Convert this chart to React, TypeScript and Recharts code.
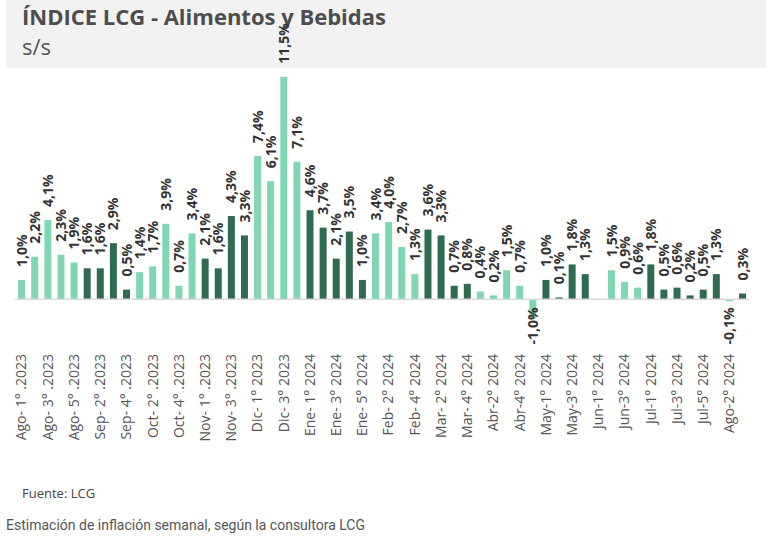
import React from 'react'
import { BarChart, Bar, XAxis, YAxis, ReferenceLine, LabelList, Cell } from 'recharts'

// semanas relevadas (ago 2023 - ago 2024)
const weeks = [
  'Ago- 1° .2023', 'Ago- 2° .2023', 'Ago- 3° .2023', 'Ago- 4° .2023', 'Ago- 5° .2023',
  'Sep- 1° .2023', 'Sep- 2° .2023', 'Sep- 3° .2023', 'Sep- 4° .2023',
  'Oct- 1° .2023', 'Oct- 2° .2023', 'Oct- 3° .2023', 'Oct- 4° .2023', 'Oct- 5° .2023',
  'Nov- 1° .2023', 'Nov- 2° .2023', 'Nov- 3° .2023', 'Nov- 4° .2023',
  'Dic- 1° 2023', 'Dic- 2° 2023', 'Dic- 3° 2023', 'Dic- 4° 2023',
  'Ene- 1° 2024', 'Ene- 2° 2024', 'Ene- 3° 2024', 'Ene- 4° 2024', 'Ene- 5° 2024',
  'Feb- 1° 2024', 'Feb- 2° 2024', 'Feb- 3° 2024', 'Feb- 4° 2024',
  'Mar- 1° 2024', 'Mar- 2° 2024', 'Mar- 3° 2024', 'Mar- 4° 2024',
  'Abr-1° 2024', 'Abr-2° 2024', 'Abr-3° 2024', 'Abr-4° 2024', 'Abr-5° 2024',
  'May-1° 2024', 'May-2° 2024', 'May-3° 2024', 'May-4° 2024',
  'Jun-1° 2024', 'Jun-2° 2024', 'Jun-3° 2024', 'Jun-4° 2024',
  'Jul-1° 2024', 'Jul-2° 2024', 'Jul-3° 2024', 'Jul-4° 2024', 'Jul-5° 2024',
  'Ago-1° 2024', 'Ago-2° 2024', 'Ago-3° 2024',
]

// variacion semanal, %
const values = [
  1.0, 2.2, 4.1, 2.3, 1.9,
  1.6, 1.6, 2.9, 0.5,
  1.4, 1.7, 3.9, 0.7, 3.4,
  2.1, 1.6, 4.3, 3.3,
  7.4, 6.1, 11.5, 7.1,
  4.6, 3.7, 2.1, 3.5, 1.0,
  3.4, 4.0, 2.7, 1.3,
  3.6, 3.3, 0.7, 0.8,
  0.4, 0.2, 1.5, 0.7, -1.0,
  1.0, 0.1, 1.8, 1.3,
  0.0, 1.5, 0.9, 0.6,
  1.8, 0.5, 0.6, 0.2, 0.5,
  1.3, -0.1, 0.3,
]

// L = verde claro, D = verde oscuro
const tones = [
  'L', 'L', 'L', 'L', 'L',
  'D', 'D', 'D', 'D',
  'L', 'L', 'L', 'L', 'L',
  'D', 'D', 'D', 'D',
  'L', 'L', 'L', 'L',
  'D', 'D', 'D', 'D', 'D',
  'L', 'L', 'L', 'L',
  'D', 'D', 'D', 'D',
  'L', 'L', 'L', 'L', 'L',
  'D', 'D', 'D', 'D',
  'L', 'L', 'L', 'L',
  'D', 'D', 'D', 'D', 'D',
  'D', 'L', 'D',
]

const LIGHT = '#7fd6b2'
const DARK = '#2f6b50'

const data = weeks.map((w, i) => ({ week: w, value: values[i], tone: tones[i] }))

const fmt = (v: number) => v.toFixed(1).replace('.', ',') + '%'

function WeekTick(props: any) {
  const { x, y, payload } = props
  return (
    <text
      transform={`translate(${x},${y + 8}) rotate(-90)`}
      dy="0.35em"
      textAnchor="end"
      fontSize={14}
      fill="#555"
      fontFamily="'Open Sans', sans-serif"
    >
      {payload.value}
    </text>
  )
}

function ValueLabel(props: any) {
  const { x, y, width, height, value } = props
  const cx = x + width / 2
  const top = Math.min(y, y + height)
  const neg = value < 0
  const py = neg ? top + 8 : top - 13
  return (
    <text
      transform={`translate(${cx},${py}) rotate(-90)`}
      dy="0.36em"
      textAnchor={neg ? 'end' : 'start'}
      fontSize={14}
      fontWeight={700}
      fill="#333"
      fontFamily="'Open Sans', sans-serif"
    >
      {fmt(value)}
    </text>
  )
}

export default function App() {
  return (
    <div style={{ position: 'absolute', left: 0, top: 0, width: 768, height: 543, background: '#fff', overflow: 'hidden' }}>
      <div style={{ position: 'absolute', left: 6, top: 0, width: 760, height: 68, background: '#f2f2f2' }} />
      <div style={{ position: 'absolute', left: 22, top: 1, fontFamily: "'Open Sans', sans-serif", fontWeight: 700, fontSize: 22, color: '#4d4d4d', whiteSpace: 'nowrap' }}>
        ÍNDICE LCG - Alimentos y Bebidas
      </div>
      <div style={{ position: 'absolute', left: 22, top: 31, fontFamily: "'Open Sans', sans-serif", fontSize: 22, color: '#555' }}>
        s/s
      </div>
      <div style={{ position: 'absolute', left: 0, top: 0 }}>
        <BarChart
          width={768}
          height={543}
          data={data}
          margin={{ top: 67, right: 19, left: 15, bottom: 0 }}
          barCategoryGap="24%"
        >
          <YAxis hide domain={[-2, 12]} />
          <XAxis
            dataKey="week"
            interval={1}
            height={205}
            axisLine={false}
            tickLine={false}
            tick={<WeekTick />}
          />
          <ReferenceLine y={0} stroke="#d9d9d9" strokeWidth={1.5} />
          <Bar dataKey="value" isAnimationActive={false}>
            {data.map((d, i) => (
              <Cell key={i} fill={d.tone === 'D' ? DARK : LIGHT} />
            ))}
            <LabelList dataKey="value" content={<ValueLabel />} />
          </Bar>
        </BarChart>
      </div>
      <div style={{ position: 'absolute', left: 22, top: 484, fontFamily: "'Open Sans', sans-serif", fontSize: 13, color: '#444' }}>
        Fuente: LCG
      </div>
      <div style={{ position: 'absolute', left: 6, top: 517, fontFamily: 'Roboto, sans-serif', fontSize: 14, color: '#555', whiteSpace: 'nowrap' }}>
        Estimación de inflación semanal, según la consultora LCG
      </div>
    </div>
  )
}
